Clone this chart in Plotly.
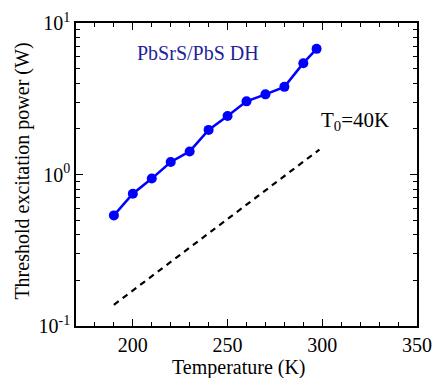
import plotly.graph_objects as go

temperature = [190, 200, 210, 220, 230, 240, 250, 260, 270, 280, 290, 297]
threshold_power = [0.537, 0.746, 0.94, 1.21, 1.42, 1.97, 2.43, 3.04, 3.38, 3.79, 5.43, 6.75]

fit_temperature = [190, 298.5]
fit_power = [0.138, 1.46]

y_tickvals = [0.1, 1, 10]
y_ticktext = ["10<sup>-1</sup>", "10<sup>0</sup>", "10<sup>1</sup>"]
y_minor_vals = [0.2, 0.3, 0.4, 0.5, 0.6, 0.7, 0.8, 0.9, 2, 3, 4, 5, 6, 7, 8, 9]
x_tickvals = [200, 250, 300, 350]
x_minor_vals = [180, 190, 210, 220, 230, 240, 260, 270, 280, 290, 310, 320, 330, 340]

FONT = "Liberation Serif"
FS = 20

fig = go.Figure()
fig.add_trace(go.Scatter(
    x=fit_temperature, y=fit_power, mode="lines",
    line=dict(color="black", width=2.2, dash="6px,5px"),
    showlegend=False, hoverinfo="skip"))
fig.add_trace(go.Scatter(
    x=temperature, y=threshold_power, mode="lines+markers",
    line=dict(color="#0000ff", width=2.5),
    marker=dict(color="#0000ff", size=10),
    showlegend=False))

fig.update_layout(
    width=434, height=378,
    margin=dict(l=76, r=17, t=23, b=52),
    paper_bgcolor="white", plot_bgcolor="white",
    font=dict(family=FONT, size=FS, color="black"),
    xaxis=dict(range=[170, 350], tickmode="array", tickvals=x_tickvals, automargin=False,
               ticks="inside", ticklen=7, tickwidth=1.2, tickcolor="black",
               minor=dict(tickmode="array", tickvals=x_minor_vals, ticks="inside", ticklen=4,
                          tickcolor="black", showgrid=False),
               showline=True, linecolor="black", linewidth=1.5, mirror="allticks",
               showgrid=False, zeroline=False, tickfont=dict(size=FS, family=FONT)),
    yaxis=dict(type="log", range=[-1, 1], tickmode="array", tickvals=y_tickvals, ticktext=y_ticktext,
               automargin=False,
               ticks="inside", ticklen=7, tickwidth=1.2, tickcolor="black",
               minor=dict(tickmode="array", tickvals=y_minor_vals, ticks="inside", ticklen=4,
                          tickcolor="black", showgrid=False),
               showline=True, linecolor="black", linewidth=1.5, mirror="allticks",
               showgrid=False, zeroline=False, tickfont=dict(size=FS, family=FONT)),
    annotations=[
        dict(text="PbSrS/PbS DH", x=0.359, y=0.90, xref="paper", yref="paper",
             xanchor="center", yanchor="middle",
             showarrow=False, font=dict(size=FS, color="#1f1f99", family=FONT)),
        dict(text="T<sub>0</sub>=40K", x=0.818, y=0.675, xref="paper", yref="paper",
             xanchor="center", yanchor="middle",
             showarrow=False, font=dict(size=FS + 1, color="black", family=FONT)),
        dict(text="Temperature (K)", x=0.479, y=-0.136, xref="paper", yref="paper",
             xanchor="center", yanchor="middle",
             showarrow=False, font=dict(size=FS, color="black", family=FONT)),
        dict(text="Threshold excitation power (W)", x=-0.158, y=0.51, xref="paper", yref="paper",
             xanchor="center", yanchor="middle",
             textangle=-90, showarrow=False, font=dict(size=FS, color="black", family=FONT)),
    ],
)

fig.write_html("out.html", post_script="document.body.style.margin='0px';",
               config={"displayModeBar": False})
